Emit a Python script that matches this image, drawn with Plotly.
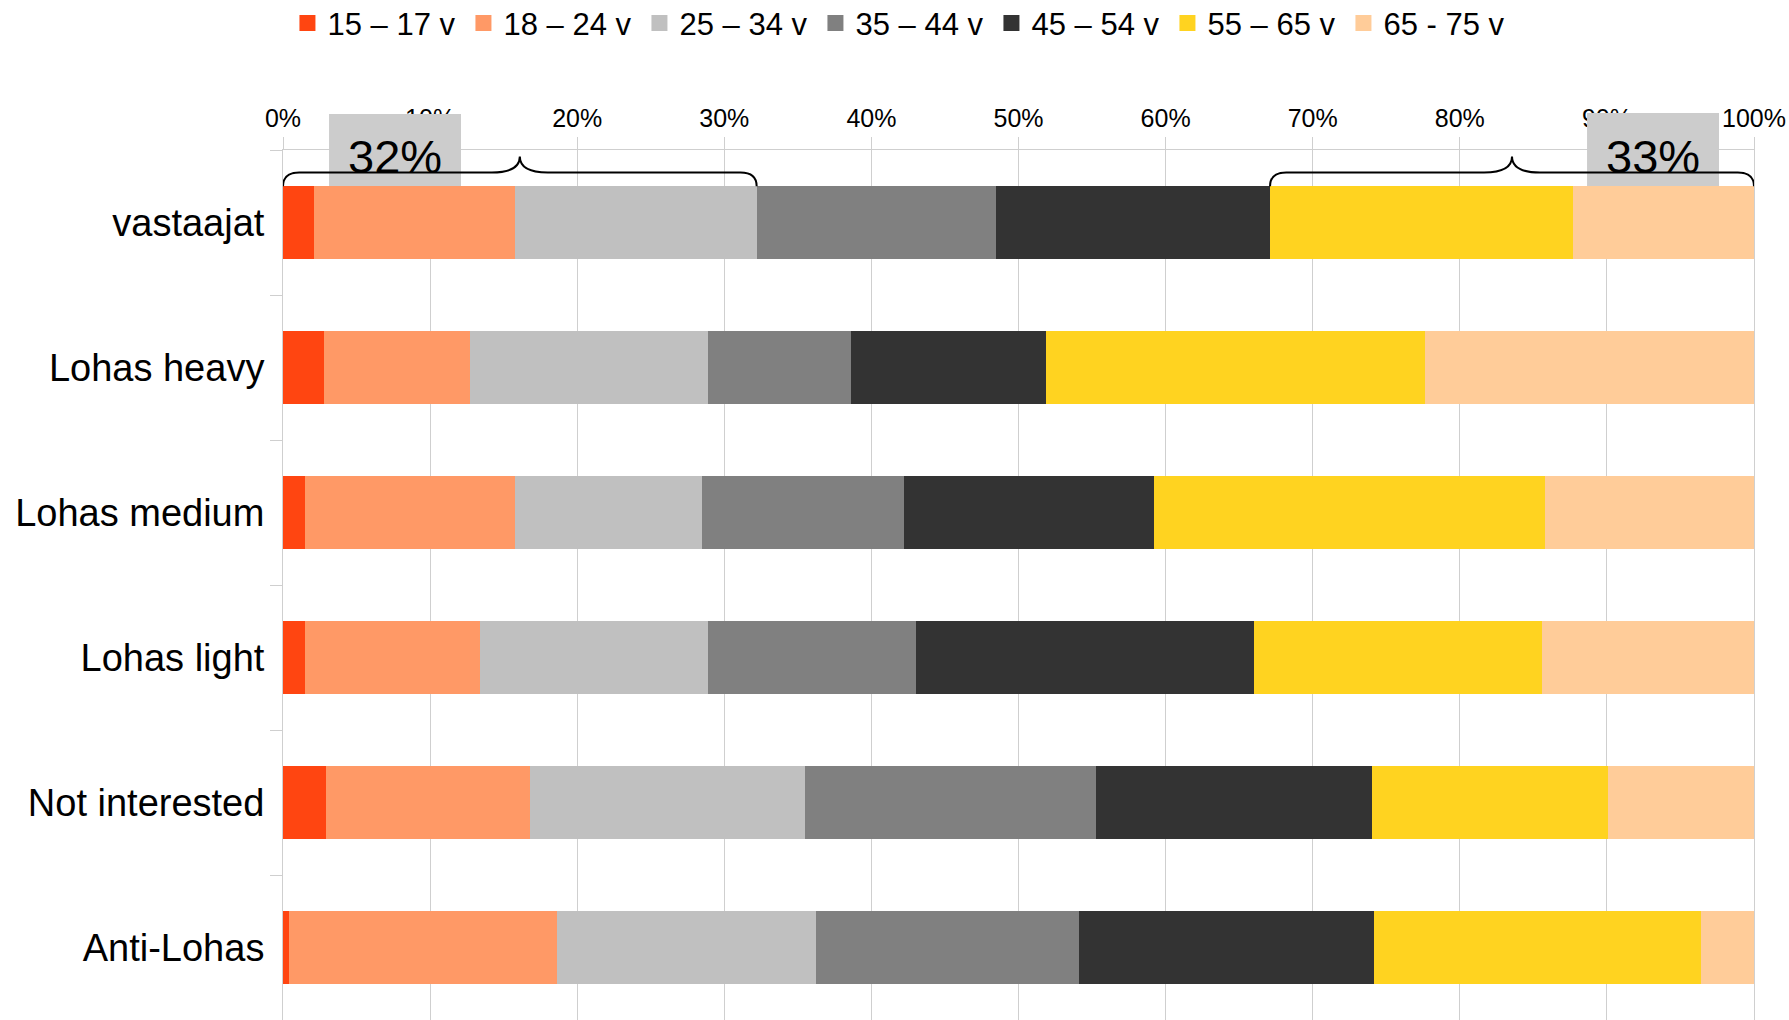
import plotly.graph_objects as go

# Respondent groups (top to bottom)
groups = ["vastaajat", "Lohas heavy", "Lohas medium", "Lohas light", "Not interested", "Anti-Lohas"]

# Age bands and their colours
age_bands = ["15 – 17 v", "18 – 24 v", "25 – 34 v", "35 – 44 v", "45 – 54 v", "55 – 65 v", "65 - 75 v"]
band_colors = ["#ff4511", "#ff9966", "#c0c0c0", "#808080", "#333333", "#ffd320", "#ffcc99"]

# Share of each age band within a group (%), one list per age band
age_15_17 = [2.1, 2.8, 1.5, 1.5, 2.9, 0.4]
age_18_24 = [13.7, 9.9, 14.3, 11.9, 13.9, 18.2]
age_25_34 = [16.4, 16.2, 12.7, 15.5, 18.7, 17.6]
age_35_44 = [16.3, 9.7, 13.7, 14.1, 19.8, 17.9]
age_45_54 = [18.6, 13.3, 17.0, 23.0, 18.7, 20.1]
age_55_65 = [20.6, 25.7, 26.6, 19.6, 16.1, 22.2]
age_65_75 = [12.3, 22.4, 14.2, 14.4, 9.9, 3.6]
series = [age_15_17, age_18_24, age_25_34, age_35_44, age_45_54, age_55_65, age_65_75]

# Bracketed groupings for the overall respondents
young_label = "32%"
old_label = "33%"

tick_values = list(range(0, 101, 10))
tick_labels = [f"{v}%" for v in tick_values]

FONT = "Liberation Sans, Arial, sans-serif"
GRID = "#cfcfcf"

fig = go.Figure()
for name, vals, col in zip(age_bands, series, band_colors):
    fig.add_trace(go.Bar(
        y=groups, x=vals, name=name, orientation="h",
        marker=dict(color=col, line=dict(width=0)),
        legendgroup=name, showlegend=False,
        hoverinfo="x+y+name",
    ))
# Legend entries with larger square swatches
for name, col in zip(age_bands, band_colors):
    fig.add_trace(go.Scatter(
        x=[None], y=[None], mode="markers", name=name, legendgroup=name,
        marker=dict(symbol="square", size=16, color=col),
        hoverinfo="skip",
    ))

# Brace extents computed from the first group's values
young_end = sum(s[0] for s in series[:3])
old_start = 100 - sum(s[0] for s in series[5:])


def brace(x0, x1, yb, yl, ya, d_end, d_mid):
    xm = (x0 + x1) / 2
    return (f"M {x0},{yb} Q {x0},{yl} {x0 + d_end},{yl} "
            f"L {xm - d_mid},{yl} Q {xm},{yl} {xm},{ya} "
            f"Q {xm},{yl} {xm + d_mid},{yl} "
            f"L {x1 - d_end},{yl} Q {x1},{yl} {x1},{yb}")


# Grey label boxes (paper coordinates, sit over the top tick labels)
shapes = [
    dict(type="rect", xref="paper", yref="paper", x0=0.0313, x1=0.1210, y0=0.9586, y1=1.0414,
         fillcolor="#cccccc", line=dict(width=0), layer="above"),
    dict(type="rect", xref="paper", yref="paper", x0=0.8865, x1=0.9762, y0=0.9586, y1=1.0425,
         fillcolor="#cccccc", line=dict(width=0), layer="above"),
]
yb, yl, ya = -0.25, -0.345, -0.455
for x0, x1 in [(0, young_end), (old_start, 100)]:
    shapes.append(dict(type="path", xref="x", yref="y",
                       path=brace(x0, x1, yb, yl, ya, 1.1, 1.9),
                       line=dict(color="black", width=2), layer="above"))

annotations = [
    dict(text=young_label, xref="paper", yref="paper", x=0.0762, y=0.993,
         xanchor="center", yanchor="middle", showarrow=False,
         font=dict(size=47, color="black", family=FONT)),
    dict(text=old_label, xref="paper", yref="paper", x=0.9313, y=0.993,
         xanchor="center", yanchor="middle", showarrow=False,
         font=dict(size=47, color="black", family=FONT)),
]

fig.update_layout(
    width=1789, height=1020,
    barmode="stack", bargap=0.5,
    plot_bgcolor="white", paper_bgcolor="white",
    margin=dict(l=283, r=35, t=150, b=0),
    font=dict(family=FONT, color="black"),
    showlegend=True,
    legend=dict(orientation="h", xref="container", yref="container",
                x=0.505, xanchor="center", y=0.977, yanchor="middle",
                font=dict(size=31, family=FONT), traceorder="normal",
                entrywidth=131, itemclick=False),
    shapes=shapes,
    annotations=annotations,
)
fig.update_xaxes(
    side="top", range=[0, 100], tickmode="array",
    tickvals=tick_values, ticktext=tick_labels,
    showgrid=True, gridcolor=GRID, gridwidth=1, zeroline=False,
    showline=True, linecolor=GRID, linewidth=1,
    ticks="outside", ticklen=12, tickcolor=GRID,
    tickfont=dict(size=25, family=FONT, color="black"),
)
fig.update_yaxes(
    categoryorder="array", categoryarray=groups, autorange="reversed",
    showgrid=False, zeroline=False,
    showline=True, mirror=True, linecolor=GRID, linewidth=1,
    ticks="outside", tickson="boundaries", ticklen=12, tickcolor=GRID,
    ticklabelstandoff=10,
    tickfont=dict(size=38, family=FONT, color="black"),
)

fig.write_html("out.html")
